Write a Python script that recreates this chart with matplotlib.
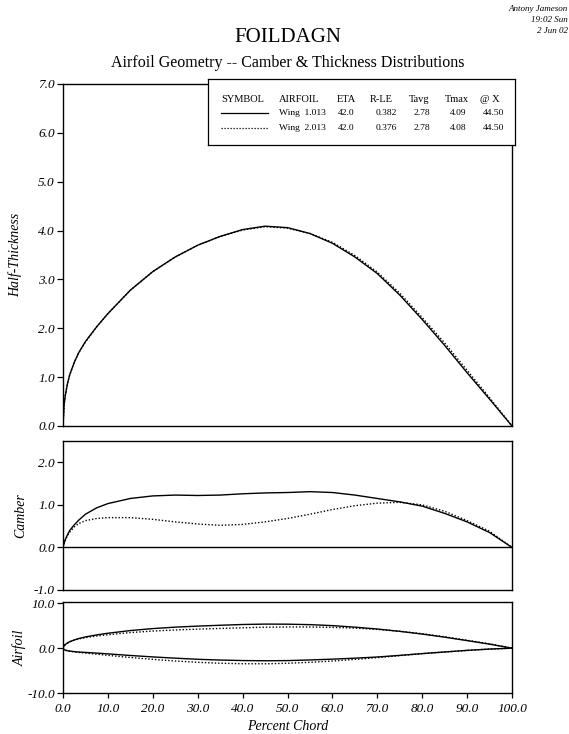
import numpy as np
import matplotlib
matplotlib.use('Agg')
import matplotlib.pyplot as plt

plt.rcParams['font.family'] = 'Liberation Serif'

# DATA (percent chord)
x_chord = np.array([0, 0.25, 0.5, 1, 1.5, 2.5, 3.5, 5, 7.5, 10, 15, 20, 25, 30, 35,
                    40, 45, 50, 55, 60, 65, 70, 75, 80, 85, 90, 95, 100])
thick_1 = np.array([0, 0.44, 0.62, 0.87, 1.05, 1.30, 1.50, 1.73, 2.03, 2.30, 2.78, 3.16,
                    3.46, 3.70, 3.88, 4.02, 4.09, 4.06, 3.94, 3.74, 3.46, 3.12, 2.68,
                    2.18, 1.65, 1.09, 0.55, 0])
thick_2 = np.array([0, 0.44, 0.62, 0.87, 1.05, 1.30, 1.50, 1.72, 2.03, 2.30, 2.78, 3.16,
                    3.46, 3.70, 3.88, 4.01, 4.08, 4.05, 3.94, 3.76, 3.49, 3.15, 2.72,
                    2.22, 1.70, 1.14, 0.58, 0])
camber_1 = np.array([0, 0.10, 0.18, 0.30, 0.40, 0.53, 0.64, 0.78, 0.93, 1.03, 1.15, 1.21,
                     1.23, 1.22, 1.23, 1.26, 1.28, 1.29, 1.31, 1.29, 1.23, 1.15, 1.07,
                     0.97, 0.80, 0.60, 0.35, 0])
camber_2 = np.array([0, 0.10, 0.17, 0.28, 0.36, 0.48, 0.56, 0.63, 0.68, 0.70, 0.70, 0.66,
                     0.60, 0.55, 0.52, 0.54, 0.60, 0.68, 0.78, 0.89, 0.98, 1.04, 1.06,
                     1.00, 0.85, 0.63, 0.38, 0])

legend_head = ['SYMBOL', 'AIRFOIL', 'ETA', 'R-LE', 'Tavg', 'Tmax', '@ X']
legend_rows = [['Wing  1.013', '42.0', '0.382', '2.78', '4.09', '44.50'],
               ['Wing  2.013', '42.0', '0.376', '2.78', '4.08', '44.50']]

W, H = 569, 734
DOT = (0, (1, 1.4))

fig = plt.figure(figsize=(W / 100, H / 100), dpi=100)


def px_axes(left, top, right, bottom):
    return fig.add_axes([left / W, 1 - bottom / H, (right - left) / W, (bottom - top) / H])


def style(ax, ylabel, ylim, yticks, xtick=False):
    ax.set_xlim(0, 100)
    ax.set_ylim(*ylim)
    ax.set_yticks(yticks)
    ax.set_yticklabels(['%.1f' % v for v in yticks], fontstyle='italic', fontsize=9.5)
    if xtick:
        xt = np.arange(0, 101, 10)
        ax.set_xticks(xt)
        ax.set_xticklabels(['%.1f' % v for v in xt], fontstyle='italic', fontsize=9.5)
        ax.tick_params(axis='x', direction='out', length=3.5, width=0.9, pad=4)
    else:
        ax.set_xticks([])
    ax.tick_params(axis='y', direction='out', length=4, width=0.9, pad=2)
    for s in ax.spines.values():
        s.set_linewidth(1.0)
    ax.set_ylabel(ylabel, fontstyle='italic', fontsize=10)


ax1 = px_axes(63, 84, 512, 426)
ax1.plot(x_chord, thick_1, color='black', lw=1.0)
ax1.plot(x_chord, thick_2, color='black', lw=1.0, ls=DOT)
style(ax1, 'Half-Thickness', (0, 7), np.arange(0, 7.1, 1.0))
ax1.yaxis.set_label_coords(-0.09, 0.5)

ax2 = px_axes(63, 441, 512, 590)
ax2.axhline(0, color='black', lw=1.0)
ax2.plot(x_chord, camber_1, color='black', lw=1.0)
ax2.plot(x_chord, camber_2, color='black', lw=1.0, ls=DOT)
style(ax2, 'Camber', (-1, 2.5), [-1.0, 0.0, 1.0, 2.0])
ax2.yaxis.set_label_coords(-0.08, 0.5)

ax3 = px_axes(63, 602, 512, 693)
ax3.plot(x_chord, camber_1 + thick_1, color='black', lw=1.0)
ax3.plot(x_chord, camber_1 - thick_1, color='black', lw=1.0)
ax3.plot(x_chord, camber_2 + thick_2, color='black', lw=1.0, ls=DOT)
ax3.plot(x_chord, camber_2 - thick_2, color='black', lw=1.0, ls=DOT)
style(ax3, 'Airfoil', (-10, 10.3), [-10.0, 0.0, 10.0], xtick=True)
ax3.yaxis.set_label_coords(-0.08, 0.5)
ax3.set_xlabel('Percent Chord', fontstyle='italic', fontsize=10, labelpad=3)

# titles
fig.text(288 / W, 1 - 38 / H, 'FOILDAGN', ha='center', va='center', fontsize=15)
fig.text(288 / W, 1 - 63 / H, 'Airfoil Geometry -- Camber & Thickness Distributions',
         ha='center', va='center', fontsize=11.5)
for yy, s in zip([9, 20, 31], ['Antony Jameson', '19:02 Sun', '2 Jun 02']):
    fig.text(568 / W, 1 - yy / H, s, ha='right', va='center', fontsize=6.5,
             fontstyle='italic')

# legend box
lg = px_axes(208, 79, 515, 145)
lg.set_xlim(208, 515)
lg.set_ylim(145, 79)
lg.set_xticks([])
lg.set_yticks([])
for s in lg.spines.values():
    s.set_linewidth(0.9)
head_x = [221, 279, 337, 370, 409, 445, 480]
for hx, s in zip(head_x, legend_head):
    lg.text(hx, 99, s, ha='left', va='center', fontsize=7.5)
val_x = [397, 430, 466, 504]
for ry, row, ls in zip([113, 128], legend_rows, ['-', DOT]):
    lg.plot([221, 268], [ry, ry], color='black', lw=0.9, ls=ls)
    lg.text(279, ry, row[0], ha='left', va='center', fontsize=6.8)
    lg.text(354, ry, row[1], ha='right', va='center', fontsize=6.8)
    for vx, s in zip(val_x, row[2:]):
        lg.text(vx, ry, s, ha='right', va='center', fontsize=6.8)

fig.savefig('out.png', dpi=100)
